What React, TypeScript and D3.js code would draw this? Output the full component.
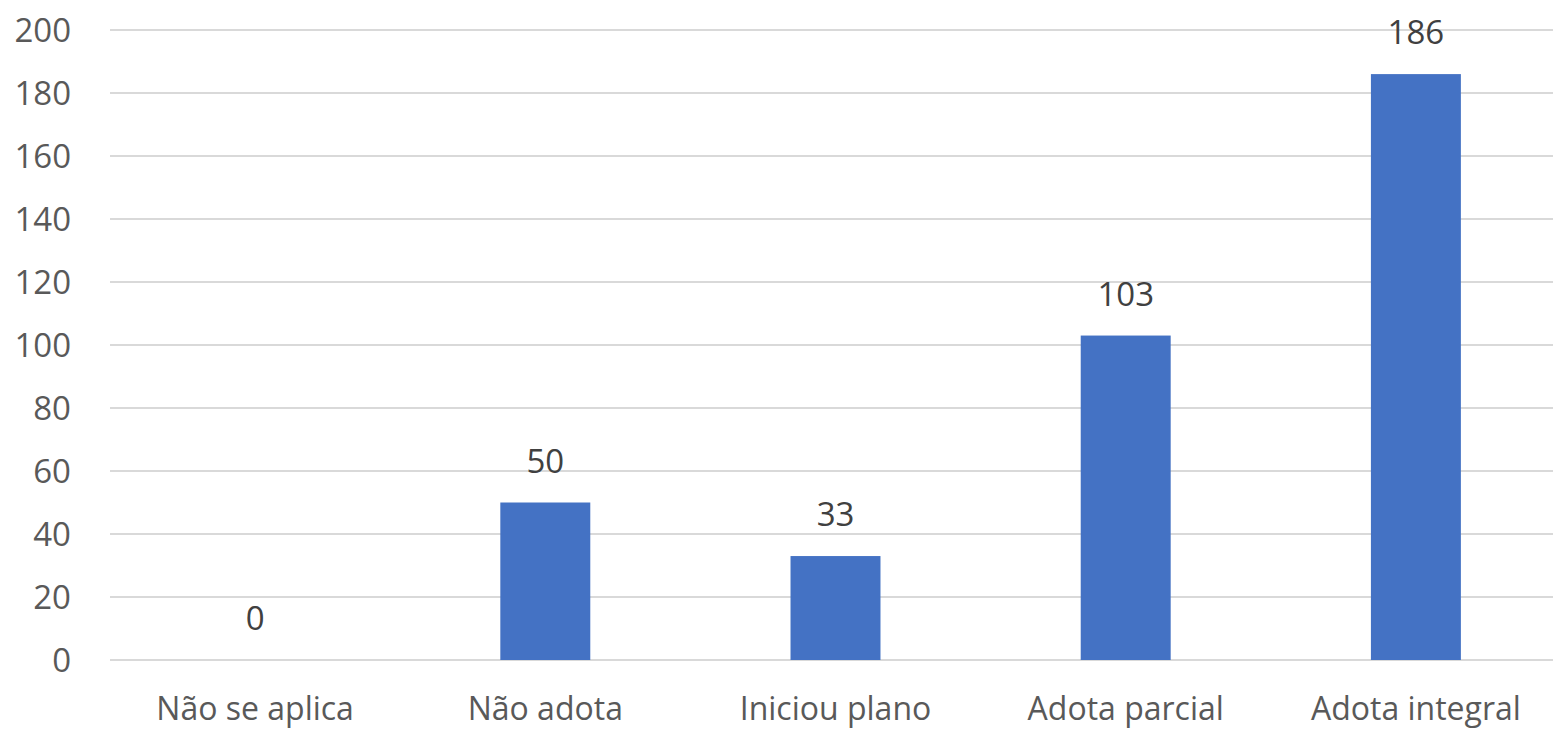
import React from "react";
import * as d3 from "d3";

const categories = ["Não se aplica", "Não adota", "Iniciou plano", "Adota parcial", "Adota integral"];
const values = [0, 50, 33, 103, 186];
const yTicks = [0, 20, 40, 60, 80, 100, 120, 140, 160, 180, 200];

const W = 1553;
const H = 732;

export default function App() {
  const x = d3.scaleBand<string>().domain(categories).range([110, 1561]).padding(0);
  const y = d3.scaleLinear().domain([0, 200]).range([660, 30]);
  const bw = x.bandwidth() * 0.31;
  const font = "'Open Sans', 'Liberation Sans', sans-serif";
  const textColor = "#595959";
  return (
    <svg width={W} height={H} style={{ position: "absolute", left: 0, top: 0, background: "#fff" }}>
      {yTicks.map((t) => (
        <g key={t}>
          <line x1={110} x2={W} y1={y(t)} y2={y(t)} stroke="#d9d9d9" strokeWidth={2} />
          <text x={71} y={y(t)} dy="0.36em" textAnchor="end" fontFamily={font} fontSize={33} fill={textColor}>
            {t}
          </text>
        </g>
      ))}
      {categories.map((c, i) => {
        const cx = (x(c) as number) + x.bandwidth() / 2;
        return (
          <g key={c}>
            <rect x={cx - bw / 2} y={y(values[i])} width={bw} height={y(0) - y(values[i])} fill="#4472C4" />
            <text x={cx} y={y(values[i]) - 30} textAnchor="middle" fontFamily={font} fontSize={33} fill="#404040">
              {values[i]}
            </text>
            <text x={cx} y={720} textAnchor="middle" fontFamily={font} fontSize={32} fill={textColor}>
              {c}
            </text>
          </g>
        );
      })}
    </svg>
  );
}
